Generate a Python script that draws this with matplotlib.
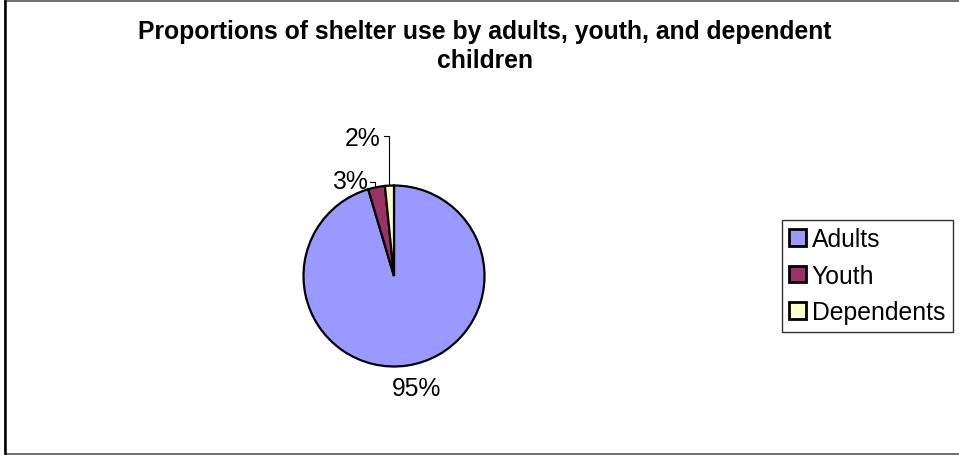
import matplotlib
matplotlib.use("Agg")
import matplotlib.pyplot as plt
from matplotlib.patches import Rectangle
import numpy as np

plt.rcParams['font.family'] = ['Liberation Sans', 'DejaVu Sans']

# data
categories = ['Adults', 'Youth', 'Dependents']
shares = [95.4, 3.0, 1.6]
colors = ['#9999FF', '#993366', '#FFFFCC']
title = 'Proportions of shelter use by adults, youth, and dependent\nchildren'

W, H = 959, 456
FS = 17.8
fig = plt.figure(figsize=(W / 100, H / 100), dpi=100)

# outer chart border (right edge falls just off the picture)
fig.patches.append(Rectangle((5 / W, 1.5 / H), (W + 4) / W, (H - 3.5) / H,
                             transform=fig.transFigure, fill=False,
                             edgecolor='#555555', linewidth=1.2))
fig.add_artist(plt.Line2D([5 / W, 5 / W], [1.5 / H, 1 - 1.5 / H],
                          color='black', linewidth=1.8))

fig.text(484.5 / W, 1 - 46.5 / H, title, ha='center', va='center',
         fontsize=FS, fontweight='bold', linespacing=1.22)

# pie axes: centre (394, 277), radius ~90.5 px
cx, cy, r = 394, 277, 90.5
ax = fig.add_axes([(cx - r) / W, (H - cy - r) / H, 2 * r / W, 2 * r / H])
wedges, _ = ax.pie(shares, colors=colors, startangle=90, counterclock=False,
                   wedgeprops=dict(edgecolor='black', linewidth=1.6))
ax.set_xlim(-1, 1)
ax.set_ylim(-1, 1)
ax.set_aspect('equal')
ax.axis('off')

def px(x, y):
    return ((x - cx) / r, (cy - y) / r)

# percentage labels
labels = ['%.0f%%' % v for v in shares]
ax.text(*px(417, 389), labels[0], ha='center', va='center', fontsize=FS,
        clip_on=False)

mids = []
for w in wedges:
    mids.append(np.deg2rad((w.theta1 + w.theta2) / 2))

# Youth
mx, my = np.cos(mids[1]), np.sin(mids[1])
lx, ly = px(375, 183)
ax.plot([px(370, 183)[0], lx, lx], [ly, ly, my * 1.01], color='black',
        linewidth=0.8, clip_on=False)
ax.text(*px(368, 182), labels[1], ha='right', va='center', fontsize=FS,
        clip_on=False)

# Dependents
mx, my = np.cos(mids[2]), np.sin(mids[2])
lx, ly = px(389, 137)
ax.plot([px(384, 137)[0], mx, mx], [ly, ly, my * 1.01], color='black',
        linewidth=0.8, clip_on=False)
ax.text(*px(381, 139), labels[2], ha='right', va='center', fontsize=FS,
        clip_on=False)

leg = fig.legend(wedges, categories, loc='upper left',
                 bbox_to_anchor=(782 / W, 1 - 221 / H), fontsize=FS,
                 frameon=True, fancybox=False, handlelength=0.66,
                 handleheight=0.66, handletextpad=0.25, labelspacing=0.5,
                 borderpad=0.3, borderaxespad=0)
leg.get_frame().set_edgecolor('black')
leg.get_frame().set_linewidth(1.0)
for h in leg.legend_handles:
    h.set_linewidth(2.0)

fig.savefig('out.png', dpi=100)
